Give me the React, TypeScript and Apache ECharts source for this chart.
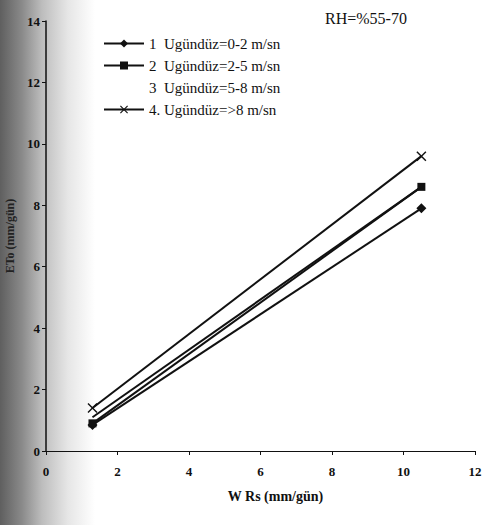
import React, { useEffect, useRef } from "react";
import * as echarts from "echarts";

const seriesNames = [
  "1  Ugündüz=0-2 m/sn",
  "2  Ugündüz=2-5 m/sn",
  "3  Ugündüz=5-8 m/sn",
  "4. Ugündüz=>8 m/sn",
];
const xValues = [1.3, 10.5];
const s1 = [0.85, 7.9];
const s2 = [0.9, 8.6];
const s3 = [1.1, 8.6];
const s4 = [1.4, 9.6];
const titleText = "RH=%55-70";
const xAxisName = "W Rs (mm/gün)";
const yAxisName = "ETo (mm/gün)";

const crossPath =
  "path://M0,1 L1,0 L5,4 L9,0 L10,1 L6,5 L10,9 L9,10 L5,6 L1,10 L0,9 L4,5 Z";

export default function App() {
  const ref = useRef<HTMLDivElement>(null);
  useEffect(() => {
    if (!ref.current) return;
    const chart = echarts.init(ref.current, undefined, { renderer: "svg" });
    const font = "'Liberation Serif', 'DejaVu Serif', serif";
    const mk = (name: string, vals: number[], symbol: string, size: number) => ({
      name,
      type: "line",
      data: xValues.map((x, i) => [x, vals[i]]),
      symbol,
      symbolSize: size,
      showSymbol: symbol !== "none",
      lineStyle: { color: "#111", width: 2 },
      itemStyle: { color: "#111" },
    });
    chart.setOption({
      animation: false,
      title: {
        text: titleText,
        left: 320,
        top: 5,
        textStyle: { fontFamily: font, fontSize: 16, fontWeight: "normal", color: "#111" },
      },
      legend: {
        orient: "vertical",
        left: 98,
        top: 31,
        itemWidth: 40,
        itemHeight: 10,
        itemGap: 7,
        textStyle: { fontFamily: font, fontSize: 15, color: "#111" },
        data: [
          { name: seriesNames[0] },
          { name: seriesNames[1] },
          { name: seriesNames[2], icon: "rect", itemStyle: { opacity: 0 } },
          { name: seriesNames[3] },
        ],
      },
      grid: {
        left: 46,
        right: 10,
        top: 21,
        bottom: 74,
        containLabel: false,
        outerBoundsMode: "none",
      },
      xAxis: {
        type: "value",
        min: 0,
        max: 12,
        interval: 2,
        name: xAxisName,
        nameLocation: "middle",
        nameGap: 38,
        nameTextStyle: { fontFamily: font, fontSize: 14, fontWeight: "bold", color: "#111", padding: [0, 0, 0, 30] },
        axisLine: { lineStyle: { color: "#111", width: 1 } },
        axisTick: { lineStyle: { color: "#111" }, length: 4 },
        axisLabel: { fontFamily: font, fontSize: 13, fontWeight: "bold", color: "#111", margin: 14 },
        splitLine: { show: false },
      },
      yAxis: {
        type: "value",
        min: 0,
        max: 14,
        interval: 2,
        name: yAxisName,
        nameLocation: "middle",
        nameGap: 25,
        nameTextStyle: { fontFamily: font, fontSize: 12, fontWeight: "bold", color: "#222" },
        axisLine: { show: true, lineStyle: { color: "#111", width: 1.5 } },
        axisTick: { show: true, lineStyle: { color: "#111" }, length: 4 },
        axisLabel: { fontFamily: font, fontSize: 13, fontWeight: "bold", color: "#111", margin: 6 },
        splitLine: { show: false },
      },
      series: [
        mk(seriesNames[0], s1, "diamond", 10),
        mk(seriesNames[1], s2, "rect", 8),
        mk(seriesNames[2], s3, "none", 0),
        mk(seriesNames[3], s4, crossPath, 10),
      ],
    });
    return () => chart.dispose();
  }, []);
  return (
    <div
      ref={ref}
      style={{
        position: "fixed",
        left: 0,
        top: 0,
        width: 485,
        height: 525,
        background:
          "linear-gradient(to right, #5f5f5f 0px, #8a8a8a 22px, #bdbdbd 42px, #e6e6e6 68px, #ffffff 95px)",
      }}
    />
  );
}
